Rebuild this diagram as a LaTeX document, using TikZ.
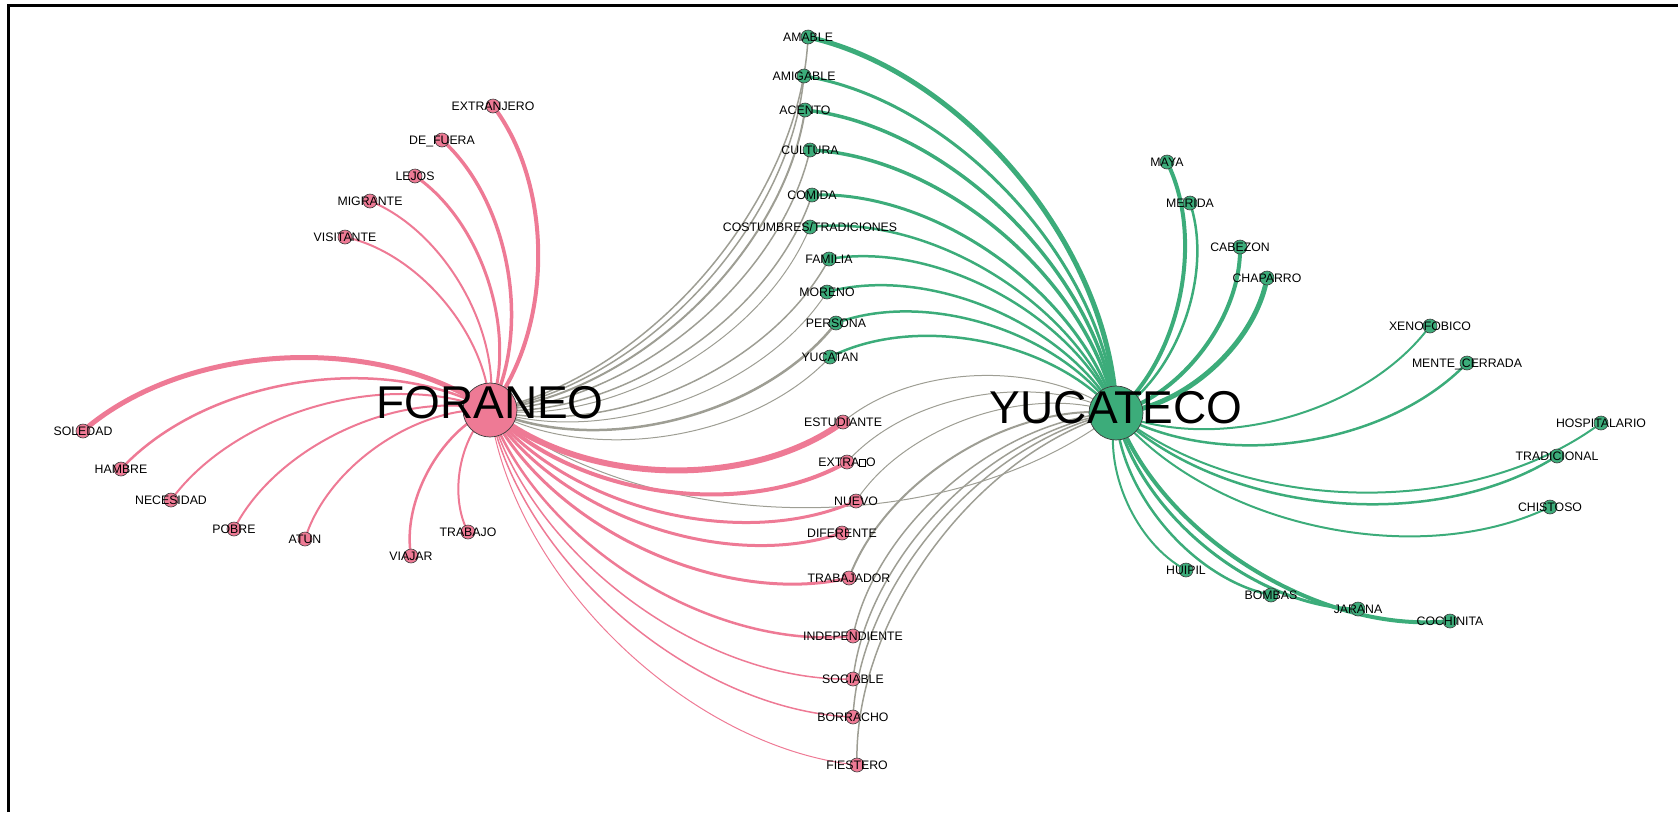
\documentclass[tikz,border=0pt]{standalone}
\usepackage{fontspec}
\setmainfont{Liberation Sans}
\pgfdeclarelayer{bg}
\pgfsetlayers{bg,main}
\definecolor{pinkc}{RGB}{238,122,149}
\definecolor{greenc}{RGB}{60,172,122}
\definecolor{grayc}{RGB}{158,158,148}
\definecolor{strokec}{RGB}{60,60,60}
\newcommand{\missingglyph}{{\fboxsep=0pt\fboxrule=0.6pt\fbox{\rule{0pt}{6.5pt}\hspace{5.5pt}}}}
\tikzset{
  leaf/.style={circle, draw=strokec, line width=0.6pt, minimum size=14pt, inner sep=0pt},
  pleaf/.style={leaf, fill=pinkc},
  gleaf/.style={leaf, fill=greenc},
  hub/.style={circle, draw=strokec, line width=0.7pt, minimum size=54pt, inner sep=0pt},
  lbl/.style={inner sep=0pt, font=\fontsize{12.3}{14}\selectfont, text height=8.8pt, text depth=0pt},
  biglbl/.style={inner sep=0pt, font=\fontsize{46}{50}\selectfont, text height=33pt, text depth=0pt},
  bendr/.style={bend right=38, looseness=0.85},
  pe/.style={draw=pinkc},
  ge/.style={draw=greenc},
  ye/.style={draw=grayc},
}
\begin{document}
\begin{tikzpicture}[x=1pt,y=1pt]
\useasboundingbox (0,0) rectangle (1678,-812);
\draw[line width=2.5pt] (8.5,-812) -- (8.5,-5.5) -- (1678,-5.5);

% hubs
\node[hub, fill=pinkc] (foraneo) at (490,-410) {};
\node[hub, fill=greenc] (yucateco) at (1116,-413) {};

% pink leaves
\node[pleaf] (extranjero) at (493,-106) {};
\node[pleaf] (defuera) at (442,-140) {};
\node[pleaf] (lejos) at (415,-176) {};
\node[pleaf] (migrante) at (370,-201) {};
\node[pleaf] (visitante) at (345,-237) {};
\node[pleaf] (soledad) at (83,-431) {};
\node[pleaf] (hambre) at (121,-469) {};
\node[pleaf] (necesidad) at (171,-500) {};
\node[pleaf] (pobre) at (234,-529) {};
\node[pleaf] (atun) at (305,-539) {};
\node[pleaf] (viajar) at (411,-556) {};
\node[pleaf] (trabajo) at (468,-532) {};
\node[pleaf] (estudiante) at (843,-422) {};
\node[pleaf] (extrano) at (847,-462) {};
\node[pleaf] (nuevo) at (856,-501) {};
\node[pleaf] (diferente) at (842,-533) {};
\node[pleaf] (trabajador) at (849,-578) {};
\node[pleaf] (independiente) at (853,-636) {};
\node[pleaf] (sociable) at (853,-679) {};
\node[pleaf] (borracho) at (853,-717) {};
\node[pleaf] (fiestero) at (857,-765) {};

% green leaves
\node[gleaf] (amable) at (808,-37) {};
\node[gleaf] (amigable) at (804,-76) {};
\node[gleaf] (acento) at (805,-110) {};
\node[gleaf] (cultura) at (810,-150) {};
\node[gleaf] (comida) at (812,-195) {};
\node[gleaf] (costumbres) at (810,-227) {};
\node[gleaf] (familia) at (829,-259) {};
\node[gleaf] (moreno) at (827,-292) {};
\node[gleaf] (persona) at (836,-323) {};
\node[gleaf] (yucatan) at (830,-357) {};
\node[gleaf] (maya) at (1167,-162) {};
\node[gleaf] (merida) at (1190,-203) {};
\node[gleaf] (cabezon) at (1240,-247) {};
\node[gleaf] (chaparro) at (1267,-278) {};
\node[gleaf] (xenofobico) at (1430,-326) {};
\node[gleaf] (mente) at (1467,-363) {};
\node[gleaf] (hospitalario) at (1601,-423) {};
\node[gleaf] (tradicional) at (1557,-456) {};
\node[gleaf] (chistoso) at (1550,-507) {};
\node[gleaf] (huipil) at (1186,-570) {};
\node[gleaf] (bombas) at (1271,-595) {};
\node[gleaf] (jarana) at (1358,-609) {};
\node[gleaf] (cochinita) at (1450,-621) {};

\begin{pgfonlayer}{bg}
% gray edges
\foreach \n/\w in {amable/1.5, amigable/1.5, acento/2, cultura/1.5, comida/1.5, costumbres/1, familia/1.5, moreno/1, persona/2.5, yucatan/1, yucateco/1}
  \draw[ye, line width=\w pt] (foraneo.center) to[bendr] (\n.center);
\foreach \n/\w in {estudiante/1, extrano/1, nuevo/1, trabajador/2, independiente/1.5, sociable/1.5, borracho/1.5, fiestero/1.5}
  \draw[ye, line width=\w pt] (yucateco.center) to[bendr] (\n.center);
% pink edges
\foreach \n/\w in {extranjero/4, defuera/3.5, lejos/3, migrante/2, visitante/2, soledad/5, hambre/2.5, necesidad/2, pobre/2, atun/2, viajar/2.5, trabajo/2, estudiante/6, extrano/4, nuevo/3, diferente/3, trabajador/3, independiente/2.5, sociable/1.5, borracho/1.5, fiestero/1}
  \draw[pe, line width=\w pt] (foraneo.center) to[bendr] (\n.center);
% green edges
\foreach \n/\w in {amable/5, amigable/3, acento/3.5, cultura/3.5, comida/3, costumbres/2.5, familia/2.5, moreno/2.5, persona/2.5, yucatan/2.5, maya/4, merida/2.5, cabezon/4, chaparro/5, xenofobico/2, mente/2.5, hospitalario/2, tradicional/2.5, chistoso/2, huipil/2, bombas/2.5, jarana/3, cochinita/4}
  \draw[ge, line width=\w pt] (yucateco.center) to[bendr] (\n.center);
\end{pgfonlayer}

% labels
\node[biglbl] (foraneo-l) at ([yshift=8pt]foraneo.center) {FORANEO};
\node[biglbl] (yucateco-l) at ([yshift=6pt]yucateco.center) {YUCATECO};
\foreach \n/\t in {extranjero/EXTRANJERO, defuera/DE\_FUERA, lejos/LEJOS, migrante/MIGRANTE, visitante/VISITANTE, soledad/SOLEDAD, hambre/HAMBRE, necesidad/NECESIDAD, pobre/POBRE, atun/ATUN, viajar/VIAJAR, trabajo/TRABAJO, estudiante/ESTUDIANTE, extrano/{EXTRA\missingglyph O}, nuevo/NUEVO, diferente/DIFERENTE, trabajador/TRABAJADOR, independiente/INDEPENDIENTE, sociable/SOCIABLE, borracho/BORRACHO, fiestero/FIESTERO, amable/AMABLE, amigable/AMIGABLE, acento/ACENTO, cultura/CULTURA, comida/COMIDA, costumbres/{COSTUMBRES/TRADICIONES}, familia/FAMILIA, moreno/MORENO, persona/PERSONA, yucatan/YUCATAN, maya/MAYA, merida/MERIDA, cabezon/CABEZON, chaparro/CHAPARRO, xenofobico/XENOFOBICO, mente/MENTE\_CERRADA, hospitalario/HOSPITALARIO, tradicional/TRADICIONAL, chistoso/CHISTOSO, huipil/HUIPIL, bombas/BOMBAS, jarana/JARANA, cochinita/COCHINITA}
  \node[lbl] (\n-l) at (\n.center) {\t};
\end{tikzpicture}
\end{document}
